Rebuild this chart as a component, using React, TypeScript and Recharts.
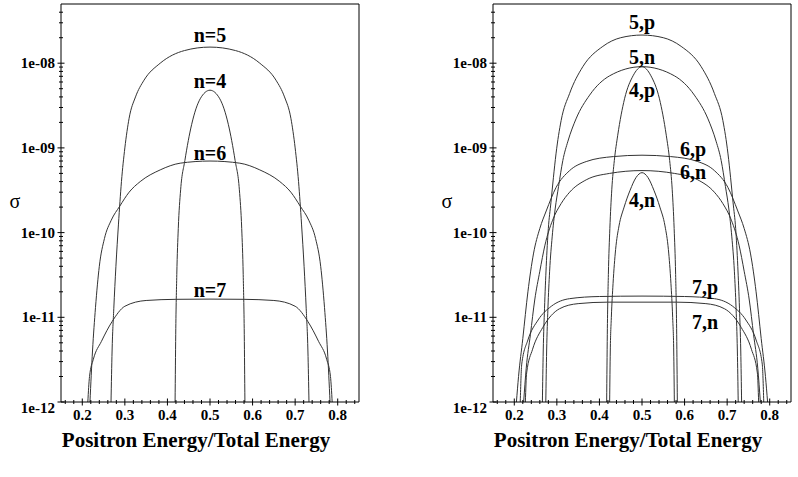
import { LineChart, Line, XAxis, YAxis, ReferenceLine, ReferenceDot } from "recharts";

type Pt = [number, number];

// axis ticks
const xMajorTicks = [0.2, 0.3, 0.4, 0.5, 0.6, 0.7, 0.8];
const xTickLabels = ["0.2", "0.3", "0.4", "0.5", "0.6", "0.7", "0.8"];
const xMinorTicks = [
  0.16, 0.18, 0.22, 0.24, 0.26, 0.28, 0.32, 0.34, 0.36, 0.38, 0.42, 0.44, 0.46, 0.48,
  0.52, 0.54, 0.56, 0.58, 0.62, 0.64, 0.66, 0.68, 0.72, 0.74, 0.76, 0.78, 0.82, 0.84,
];
const yMajorTicks = [1e-12, 1e-11, 1e-10, 1e-9, 1e-8];
const yTickLabels = ["1e-12", "1e-11", "1e-10", "1e-09", "1e-08"];
const yMinorTicks = [
  2e-12, 3e-12, 4e-12, 5e-12, 6e-12, 7e-12, 8e-12, 9e-12,
  2e-11, 3e-11, 4e-11, 5e-11, 6e-11, 7e-11, 8e-11, 9e-11,
  2e-10, 3e-10, 4e-10, 5e-10, 6e-10, 7e-10, 8e-10, 9e-10,
  2e-9, 3e-9, 4e-9, 5e-9, 6e-9, 7e-9, 8e-9, 9e-9,
  2e-8, 3e-8, 4e-8,
];
const xDomain: [number, number] = [0.15, 0.85];
const yDomain: [number, number] = [1e-12, 5e-8];

// left panel: cross sections by n
const sigmaN5: Pt[] = [
  [0.2675, 1e-12], [0.27, 4e-12], [0.274, 1.26e-11], [0.279, 4e-11], [0.285, 1.26e-10],
  [0.292, 4e-10], [0.3, 1e-9], [0.31, 2.24e-9], [0.325, 4e-9], [0.345, 6.3e-9],
  [0.383, 1e-8], [0.44, 1.41e-8], [0.5, 1.55e-8], [0.56, 1.41e-8], [0.617, 1e-8],
  [0.655, 6.3e-9], [0.675, 4e-9], [0.69, 2.24e-9], [0.7, 1e-9], [0.708, 4e-10],
  [0.715, 1.26e-10], [0.721, 4e-11], [0.726, 1.26e-11], [0.73, 4e-12], [0.7325, 1e-12],
];
const sigmaN4: Pt[] = [
  [0.418, 1e-12], [0.4195, 6.3e-12], [0.422, 3.2e-11], [0.4255, 1.12e-10], [0.431, 3.2e-10],
  [0.441, 7.1e-10], [0.457, 1.9e-9], [0.477, 3.8e-9], [0.5, 4.8e-9], [0.523, 3.8e-9],
  [0.543, 1.9e-9], [0.559, 7.1e-10], [0.569, 3.2e-10], [0.5745, 1.12e-10], [0.578, 3.2e-11],
  [0.5805, 6.3e-12], [0.582, 1e-12],
];
const sigmaN6: Pt[] = [
  [0.218, 1e-12], [0.224, 4e-12], [0.231, 1.3e-11], [0.24, 4e-11], [0.252, 8.5e-11],
  [0.268, 1.4e-10], [0.288, 2.05e-10], [0.31, 3e-10], [0.336, 4e-10], [0.383, 5.5e-10],
  [0.43, 6.6e-10], [0.5, 7e-10], [0.57, 6.6e-10], [0.617, 5.5e-10], [0.664, 4e-10],
  [0.69, 3e-10], [0.712, 2.05e-10], [0.732, 1.4e-10], [0.748, 8.5e-11], [0.76, 4e-11],
  [0.769, 1.3e-11], [0.776, 4e-12], [0.782, 1e-12],
];
const sigmaN7: Pt[] = [
  [0.213, 1e-12], [0.217, 2e-12], [0.226, 3.2e-12], [0.245, 5.2e-12], [0.27, 8.9e-12],
  [0.3, 1.35e-11], [0.35, 1.58e-11], [0.42, 1.63e-11], [0.5, 1.64e-11], [0.58, 1.63e-11],
  [0.65, 1.58e-11], [0.7, 1.35e-11], [0.73, 8.9e-12], [0.755, 5.2e-12], [0.774, 3.2e-12],
  [0.783, 2e-12], [0.787, 1e-12],
];

// right panel: proton (p) and neutron (n) contributions
const sigma5p: Pt[] = [
  [0.266, 1e-12], [0.268, 4e-12], [0.271, 1.26e-11], [0.275, 4e-11], [0.28, 1.12e-10],
  [0.286, 2.24e-10], [0.292, 4.5e-10], [0.298, 8.5e-10], [0.31, 2.1e-9], [0.33, 4.4e-9],
  [0.361, 9.1e-9], [0.408, 1.58e-8], [0.45, 2e-8], [0.5, 2.15e-8], [0.55, 2e-8],
  [0.592, 1.58e-8], [0.639, 9.1e-9], [0.67, 4.4e-9], [0.69, 2.1e-9], [0.702, 8.5e-10],
  [0.708, 4.5e-10], [0.714, 2.24e-10], [0.72, 1.12e-10], [0.725, 4e-11], [0.729, 1.26e-11],
  [0.732, 4e-12], [0.734, 1e-12],
];
const sigma5n: Pt[] = [
  [0.274, 1e-12], [0.276, 4e-12], [0.279, 1.26e-11], [0.283, 3.5e-11], [0.289, 8.9e-11],
  [0.296, 1.9e-10], [0.304, 3.5e-10], [0.314, 7.1e-10], [0.326, 1.2e-9], [0.345, 2.2e-9],
  [0.377, 4.2e-9], [0.424, 7.1e-9], [0.5, 9.1e-9], [0.576, 7.1e-9], [0.623, 4.2e-9],
  [0.655, 2.2e-9], [0.674, 1.2e-9], [0.686, 7.1e-10], [0.696, 3.5e-10], [0.704, 1.9e-10],
  [0.711, 8.9e-11], [0.717, 3.5e-11], [0.721, 1.26e-11], [0.724, 4e-12], [0.726, 1e-12],
];
const sigma4p: Pt[] = [
  [0.417, 1e-12], [0.4185, 6.3e-12], [0.421, 3.2e-11], [0.4245, 1.12e-10], [0.429, 3.2e-10],
  [0.435, 7.1e-10], [0.443, 1.41e-9], [0.459, 3.8e-9], [0.479, 7.1e-9], [0.5, 9.1e-9],
  [0.521, 7.1e-9], [0.541, 3.8e-9], [0.557, 1.41e-9], [0.565, 7.1e-10], [0.571, 3.2e-10],
  [0.5755, 1.12e-10], [0.579, 3.2e-11], [0.5815, 6.3e-12], [0.583, 1e-12],
];
const sigma4n: Pt[] = [
  [0.424, 1e-12], [0.4255, 4e-12], [0.428, 1e-11], [0.432, 2.5e-11], [0.438, 6.3e-11],
  [0.446, 1.2e-10], [0.458, 2e-10], [0.472, 3.16e-10], [0.486, 4.47e-10], [0.5, 5.1e-10],
  [0.514, 4.47e-10], [0.528, 3.16e-10], [0.542, 2e-10], [0.554, 1.2e-10], [0.562, 6.3e-11],
  [0.568, 2.5e-11], [0.572, 1e-11], [0.5745, 4e-12], [0.576, 1e-12],
];
const sigma6p: Pt[] = [
  [0.205, 1e-12], [0.21, 2e-12], [0.22, 5.6e-12], [0.232, 2e-11], [0.245, 5.6e-11],
  [0.26, 1.12e-10], [0.275, 1.8e-10], [0.298, 3.4e-10], [0.33, 5.4e-10], [0.369, 6.9e-10],
  [0.433, 7.9e-10], [0.5, 8.2e-10], [0.567, 7.9e-10], [0.631, 6.9e-10], [0.67, 5.4e-10],
  [0.702, 3.4e-10], [0.725, 1.8e-10], [0.74, 1.12e-10], [0.755, 5.6e-11], [0.768, 2e-11],
  [0.78, 5.6e-12], [0.79, 2e-12], [0.795, 1e-12],
];
const sigma6n: Pt[] = [
  [0.222, 1e-12], [0.228, 2.5e-12], [0.238, 6.3e-12], [0.248, 1.6e-11], [0.26, 3.5e-11],
  [0.272, 7.1e-11], [0.29, 1.4e-10], [0.31, 2.2e-10], [0.33, 3e-10], [0.369, 4.2e-10],
  [0.424, 5e-10], [0.5, 5.4e-10], [0.576, 5e-10], [0.631, 4.2e-10], [0.67, 3e-10],
  [0.69, 2.2e-10], [0.71, 1.4e-10], [0.728, 7.1e-11], [0.74, 3.5e-11], [0.752, 1.6e-11],
  [0.762, 6.3e-12], [0.772, 2.5e-12], [0.778, 1e-12],
];
const sigma7p: Pt[] = [
  [0.214, 1e-12], [0.2175, 2.8e-12], [0.232, 5.4e-12], [0.256, 9.3e-12], [0.287, 1.35e-11],
  [0.33, 1.66e-11], [0.4, 1.76e-11], [0.5, 1.78e-11], [0.6, 1.76e-11], [0.67, 1.66e-11],
  [0.713, 1.35e-11], [0.744, 9.3e-12], [0.768, 5.4e-12], [0.7825, 2.8e-12], [0.786, 1e-12],
];
const sigma7n: Pt[] = [
  [0.226, 1e-12], [0.229, 2.2e-12], [0.243, 4.2e-12], [0.267, 7.6e-12], [0.306, 1.26e-11],
  [0.35, 1.45e-11], [0.42, 1.51e-11], [0.5, 1.51e-11], [0.58, 1.51e-11], [0.65, 1.45e-11],
  [0.694, 1.26e-11], [0.733, 7.6e-12], [0.757, 4.2e-12], [0.771, 2.2e-12], [0.774, 1e-12],
];

// curve annotations: [text, x, sigma]
const leftLabels: [string, number, number][] = [
  ["n=5", 0.5, 2.15e-8],
  ["n=4", 0.5, 6.2e-9],
  ["n=6", 0.5, 8.8e-10],
  ["n=7", 0.5, 2.1e-11],
];
const rightLabels: [string, number, number][] = [
  ["5,p", 0.5, 3.1e-8],
  ["5,n", 0.5, 1.19e-8],
  ["4,p", 0.5, 4.8e-9],
  ["6,p", 0.62, 9.7e-10],
  ["6,n", 0.62, 5.2e-10],
  ["4,n", 0.5, 2.4e-10],
  ["7,p", 0.648, 2.3e-11],
  ["7,n", 0.648, 8.9e-12],
];

const leftCurves = [sigmaN5, sigmaN4, sigmaN6, sigmaN7];
const rightCurves = [sigma5p, sigma5n, sigma4p, sigma4n, sigma6p, sigma6n, sigma7p, sigma7n];

const serif = '"Liberation Serif", serif';
const tickFont = { fontFamily: serif, fontWeight: 700, fontSize: 15, fill: "#000" };
const xTicks = [...xMinorTicks, ...xMajorTicks].sort((a, b) => a - b);
const yTicks = [...yMinorTicks, ...yMajorTicks].sort((a, b) => a - b);

const toPoints = (pts: Pt[]) => pts.map(([x, y]) => ({ x, y }));

function XTick(props: any) {
  const { x, y, payload } = props;
  const i = xMajorTicks.indexOf(payload.value);
  const len = i >= 0 ? 3.5 : 2;
  return (
    <g>
      <line x1={x} x2={x} y1={y - len} y2={y + len} stroke="#000" />
      {i >= 0 && (
        <text x={x} y={y + 18} textAnchor="middle" style={tickFont}>
          {xTickLabels[i]}
        </text>
      )}
    </g>
  );
}

function YTick(props: any) {
  const { x, y, payload } = props;
  const i = yMajorTicks.indexOf(payload.value);
  const len = i >= 0 ? 3.5 : 2;
  return (
    <g>
      <line x1={x - len} x2={x + len} y1={y} y2={y} stroke="#000" />
      {i >= 0 && (
        <text x={x - 6} y={y + (i === 0 ? 11 : 5)} textAnchor="end" style={tickFont}>
          {yTickLabels[i]}
        </text>
      )}
    </g>
  );
}

function Panel({
  width,
  left,
  right,
  curves,
  labels,
}: {
  width: number;
  left: number;
  right: number;
  curves: Pt[][];
  labels: [string, number, number][];
}) {
  return (
    <LineChart width={width} height={477} margin={{ top: 4, right, bottom: 74, left: left - 1 }}>
      <XAxis
        dataKey="x"
        type="number"
        domain={xDomain}
        ticks={xTicks}
        interval={0}
        height={1}
        tickSize={0}
        tickMargin={0}
        tickLine={false}
        axisLine={{ stroke: "#000" }}
        tick={(p: any) => <XTick {...p} />}
        allowDataOverflow
      />
      <YAxis
        dataKey="y"
        type="number"
        scale="log"
        domain={yDomain}
        ticks={yTicks}
        interval={0}
        width={1}
        tickSize={0}
        tickMargin={0}
        tickLine={false}
        axisLine={{ stroke: "#000" }}
        tick={(p: any) => <YTick {...p} />}
        allowDataOverflow
      />
      <ReferenceLine y={yDomain[1]} stroke="#000" />
      <ReferenceLine x={xDomain[1]} stroke="#000" />
      {curves.map((c, i) => (
        <Line
          key={i}
          data={toPoints(c)}
          dataKey="y"
          type="monotone"
          stroke="#333"
          strokeWidth={1}
          dot={false}
          activeDot={false}
          isAnimationActive={false}
        />
      ))}
      {labels.map(([text, x, y]) => (
        <ReferenceDot
          key={text}
          x={x}
          y={y}
          r={0}
          ifOverflow="visible"
          shape={(p: any) => (
            <text
              x={p.cx}
              y={p.cy}
              dy={7}
              textAnchor="middle"
              style={{ fontFamily: serif, fontWeight: 700, fontSize: 20, fill: "#000" }}
            >
              {text}
            </text>
          )}
        />
      ))}
    </LineChart>
  );
}

const titleStyle: React.CSSProperties = {
  position: "absolute",
  top: 427,
  width: 400,
  textAlign: "center",
  fontFamily: serif,
  fontWeight: 700,
  fontSize: 21,
  lineHeight: "26px",
};
const sigmaStyle: React.CSSProperties = {
  position: "absolute",
  top: 188,
  width: 20,
  textAlign: "center",
  fontFamily: serif,
  fontSize: 20,
  lineHeight: "26px",
};

export default function App() {
  return (
    <div style={{ position: "absolute", left: 0, top: 0, width: 798, height: 477, background: "#fff" }}>
      <div style={{ position: "absolute", left: 0, top: 0 }}>
        <Panel width={400} left={61} right={41} curves={leftCurves} labels={leftLabels} />
      </div>
      <div style={{ position: "absolute", left: 400, top: 0 }}>
        <Panel width={398} left={93} right={7} curves={rightCurves} labels={rightLabels} />
      </div>
      <div style={{ ...sigmaStyle, left: 5 }}>σ</div>
      <div style={{ ...sigmaStyle, left: 437 }}>σ</div>
      <div style={{ ...titleStyle, left: -4 }}>Positron Energy/Total Energy</div>
      <div style={{ ...titleStyle, left: 428 }}>Positron Energy/Total Energy</div>
    </div>
  );
}
